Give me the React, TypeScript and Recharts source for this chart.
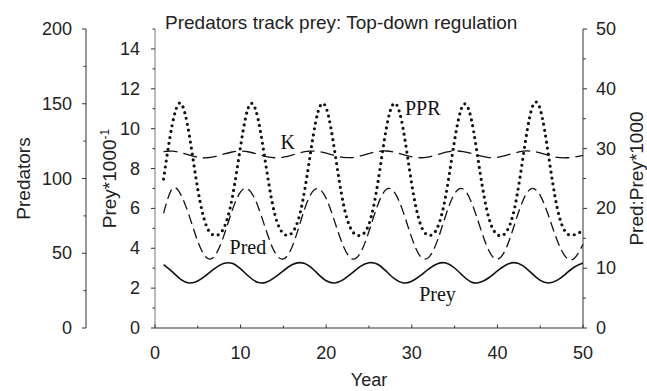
import { LineChart, Line, XAxis, YAxis, ReferenceDot } from 'recharts'

const years = [
  1, 2, 3, 4, 5, 6, 7, 8, 9, 10, 11, 12, 13, 14, 15, 16, 17, 18, 19, 20, 21, 22, 23, 24, 25,
  26, 27, 28, 29, 30, 31, 32, 33, 34, 35, 36, 37, 38, 39, 40, 41, 42, 43, 44, 45, 46, 47, 48, 49, 50,
]

// prey density (thousands), inner left axis
const prey = [
  3.18, 2.83, 2.44, 2.26, 2.36, 2.65, 2.99, 3.23, 3.25, 2.97, 2.57, 2.29, 2.3, 2.54, 2.87, 3.17, 3.28,
  3.12, 2.73, 2.37, 2.26, 2.43, 2.75, 3.09, 3.27, 3.2, 2.85, 2.46, 2.26, 2.35, 2.63, 2.97, 3.22, 3.26,
  3.01, 2.61, 2.3, 2.29, 2.52, 2.86, 3.16, 3.28, 3.12, 2.75, 2.39, 2.26, 2.4, 2.72, 3.06, 3.26,
]

// predators, outer left axis
const pred = [
  76.7, 93.0, 89.4, 75.0, 57.9, 47.1, 48.4, 61.1, 78.3, 91.1, 92.3, 81.8, 65.0, 50.6, 46.2, 54.0, 71.1,
  87.3, 93.2, 86.6, 71.0, 54.8, 46.3, 50.3, 64.7, 82.0, 92.6, 90.6, 77.5, 60.3, 47.9, 47.4, 58.6, 75.9,
  89.8, 93.0, 83.6, 67.1, 51.8, 46.0, 53.1, 69.2, 85.5, 93.3, 88.7, 74.7, 58.3, 47.4, 46.7, 56.0,
]

// predator:prey ratio * 1000, right axis
const ppr = [
  24.9, 33.9, 37.6, 32.3, 23.2, 17.1, 15.5, 16.6, 21.6, 30.4, 37.2, 35.2, 26.8, 19.0, 15.8, 15.9, 19.5,
  27.7, 35.9, 36.8, 29.5, 20.8, 16.3, 15.5, 17.4, 24.0, 33.2, 37.6, 33.2, 24.0, 17.4, 15.5, 16.8, 22.4,
  31.4, 37.3, 34.6, 25.8, 18.4, 15.6, 16.0, 20.0, 28.6, 36.6, 36.6, 28.6, 20.0, 16.0, 15.6, 16.3,
]

// carrying capacity (thousands), inner left axis
const kCap = [
  8.85, 8.87, 8.8, 8.67, 8.57, 8.54, 8.6, 8.72, 8.83, 8.88, 8.83, 8.72, 8.6, 8.54, 8.57, 8.67, 8.8,
  8.87, 8.86, 8.77, 8.65, 8.56, 8.55, 8.63, 8.75, 8.85, 8.88, 8.82, 8.7, 8.59, 8.54, 8.59, 8.7, 8.82,
  8.88, 8.85, 8.75, 8.63, 8.55, 8.56, 8.66, 8.78, 8.87, 8.87, 8.78, 8.66, 8.56, 8.54, 8.58, 8.66,
]

const xTicks = [0, 5, 10, 15, 20, 25, 30, 35, 40, 45, 50]
const predTicks = [0, 25, 50, 75, 100, 125, 150, 175, 200]
const preyTicks = [0, 1, 2, 3, 4, 5, 6, 7, 8, 9, 10, 11, 12, 13, 14, 15]
const ratioTicks = [0, 5, 10, 15, 20, 25, 30, 35, 40, 45, 50]

const INK = '#111'
const AXIS = '#333'
const SANS = '"Liberation Sans", Arial, sans-serif'
const SERIF = '"Liberation Serif", "Times New Roman", serif'

const data = years.map((year, i) => ({
  year,
  prey: prey[i],
  pred: pred[i],
  ppr: ppr[i],
  k: kCap[i],
}))

function LeftTick({ x, y, payload, major, gap }: any) {
  const isMajor = payload.value % major === 0
  return (
    <g>
      <line x1={x - (isMajor ? 4 : 2.5)} x2={x} y1={y} y2={y} stroke={AXIS} />
      {isMajor && (
        <text x={x - gap} y={y} textAnchor="end" dominantBaseline="central" fontSize={18} fontFamily={SANS} fill="#222">
          {payload.value}
        </text>
      )}
    </g>
  )
}

function RightTick({ x, y, payload }: any) {
  const isMajor = payload.value % 10 === 0
  return (
    <g>
      <line x1={x} x2={x + (isMajor ? 4 : 3)} y1={y} y2={y} stroke={AXIS} />
      {isMajor && (
        <text x={x + 13} y={y} textAnchor="start" dominantBaseline="central" fontSize={18} fontFamily={SANS} fill="#222">
          {payload.value}
        </text>
      )}
    </g>
  )
}

function BottomTick({ x, y, payload }: any) {
  const isMajor = payload.value % 10 === 0
  return (
    <g>
      <line x1={x} x2={x} y1={y} y2={y - (isMajor ? 3.5 : 2.5)} stroke={AXIS} />
      {isMajor && (
        <text x={x} y={y + 25} textAnchor="middle" dominantBaseline="central" fontSize={18} fontFamily={SANS} fill="#222">
          {payload.value}
        </text>
      )}
    </g>
  )
}

function AxisTitle({ viewBox, offsetX, text, sup }: any) {
  const vb = viewBox || { x: 0, y: 0, width: 0, height: 0 }
  const cx = vb.x + offsetX
  const cy = vb.y + vb.height / 2
  return (
    <text
      x={cx}
      y={cy}
      transform={`rotate(-90 ${cx} ${cy})`}
      textAnchor="middle"
      fontSize={19}
      fontFamily={SANS}
      fill="#222"
    >
      {text}
      {sup && (
        <tspan dy={-7} fontSize={12}>
          {sup}
        </tspan>
      )}
    </text>
  )
}

function SeriesTag(text: string, anchor: 'start' | 'middle') {
  return (p: any) => (
    <text x={p.cx} y={p.cy} textAnchor={anchor} dominantBaseline="central" fontSize={20} fontFamily={SERIF} fill={INK}>
      {text}
    </text>
  )
}

export default function App() {
  return (
    <div style={{ position: 'absolute', left: 0, top: 0, width: 647, height: 391, background: '#fff' }}>
      <div
        style={{
          position: 'absolute',
          left: 165,
          top: 13,
          fontFamily: SANS,
          fontSize: 19,
          lineHeight: '19px',
          color: '#222',
          whiteSpace: 'nowrap',
        }}
      >
        Predators track prey: Top-down regulation
      </div>
      <LineChart width={647} height={391} data={data} margin={{ top: 29, right: 0, bottom: 0, left: 0 }}>
        <XAxis
          dataKey="year"
          type="number"
          domain={[0, 50]}
          ticks={xTicks}
          interval={0}
          height={63}
          tickSize={0}
          tickMargin={0}
          tickLine={false}
          axisLine={{ stroke: AXIS }}
          tick={<BottomTick />}
          label={{ value: 'Year', position: 'insideBottom', offset: 0, dy: -5, fontSize: 18, fontFamily: SANS, fill: '#222' }}
        />
        <YAxis
          yAxisId="outer"
          orientation="left"
          domain={[0, 200]}
          ticks={predTicks}
          interval={0}
          width={86}
          tickSize={0}
          tickMargin={0}
          tickLine={false}
          axisLine={{ stroke: AXIS }}
          tick={<LeftTick major={50} gap={14} />}
          label={<AxisTitle offsetX={30} text="Predators" />}
        />
        <YAxis
          yAxisId="inner"
          orientation="left"
          domain={[0, 15]}
          ticks={preyTicks}
          interval={0}
          width={69}
          tickSize={0}
          tickMargin={0}
          tickLine={false}
          axisLine={{ stroke: '#777' }}
          tick={<LeftTick major={2} gap={15} />}
          label={<AxisTitle offsetX={30} text="Prey*1000" sup="-1" />}
        />
        <YAxis
          yAxisId="ratio"
          orientation="right"
          domain={[0, 50]}
          ticks={ratioTicks}
          interval={0}
          width={64}
          tickSize={0}
          tickMargin={0}
          tickLine={false}
          axisLine={{ stroke: AXIS }}
          tick={<RightTick />}
          label={<AxisTitle offsetX={60} text="Pred:Prey*1000" />}
        />
        <Line
          yAxisId="inner"
          dataKey="k"
          type="natural"
          stroke={INK}
          strokeWidth={1.3}
          strokeDasharray="14 6"
          dot={false}
          isAnimationActive={false}
        />
        <Line
          yAxisId="outer"
          dataKey="pred"
          type="natural"
          stroke={INK}
          strokeWidth={1.3}
          strokeDasharray="10 5"
          dot={false}
          isAnimationActive={false}
        />
        <Line
          yAxisId="inner"
          dataKey="prey"
          type="natural"
          stroke={INK}
          strokeWidth={1.6}
          dot={false}
          isAnimationActive={false}
        />
        <Line
          yAxisId="ratio"
          dataKey="ppr"
          type="natural"
          stroke={INK}
          strokeWidth={3.2}
          strokeLinecap="round"
          strokeDasharray="0 6"
          dot={false}
          isAnimationActive={false}
        />
        <ReferenceDot yAxisId="ratio" x={29.2} y={36.8} r={0} shape={SeriesTag('PPR', 'start')} />
        <ReferenceDot yAxisId="inner" x={15.5} y={9.33} r={0} shape={SeriesTag('K', 'middle')} />
        <ReferenceDot yAxisId="inner" x={10.85} y={4.07} r={0} shape={SeriesTag('Pred', 'middle')} />
        <ReferenceDot yAxisId="inner" x={33.0} y={1.73} r={0} shape={SeriesTag('Prey', 'middle')} />
      </LineChart>
    </div>
  )
}
